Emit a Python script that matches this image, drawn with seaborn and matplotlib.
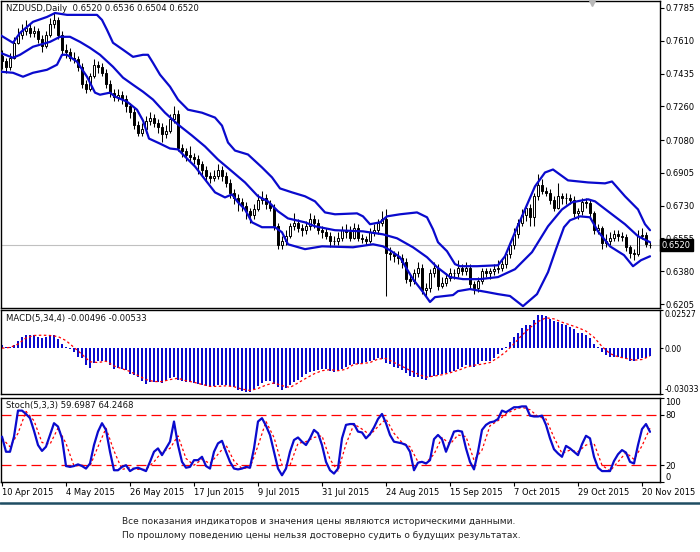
import numpy as np
import pandas as pd
import matplotlib
matplotlib.use('Agg')
import matplotlib.pyplot as plt
import seaborn as sns
from matplotlib.patches import Rectangle
from matplotlib.lines import Line2D

sns.set_style('white')
plt.rcParams['font.family'] = ['DejaVu Sans']

# ---------------- data ----------------
symbol_title = "NZDUSD,Daily  0.6520 0.6536 0.6504 0.6520"
macd_title = "MACD(5,34,4) -0.00496 -0.00533"
stoch_title = "Stoch(5,3,3) 59.6987 64.2468"
footer_lines = ["Все показания индикаторов и значения цены являются историческими данными.",
                "По прошлому поведению цены нельзя достоверно судить о будущих результатах."]

dates = pd.bdate_range('2015-04-10', '2015-11-24')
tick_labels = ["10 Apr 2015", "4 May 2015", "26 May 2015", "17 Jun 2015", "9 Jul 2015",
               "31 Jul 2015", "24 Aug 2015", "15 Sep 2015", "7 Oct 2015", "29 Oct 2015",
               "20 Nov 2015"]
price_ticks = [0.7785, 0.7610, 0.7435, 0.7260, 0.7080, 0.6905, 0.6730, 0.6555, 0.6380, 0.6205]
last_price = 0.6520
macd_ticks = [0.02527, 0.0, -0.03033]
macd_tick_labels = ["0.02527", "0.00", "-0.03033"]
stoch_levels = [80, 20]

opens = [0.7530,0.7500,0.7470,0.7520,0.7600,0.7640,0.7660,0.7680,0.7650,0.7660,
 0.7620,0.7580,0.7640,0.7700,0.7720,0.7640,0.7560,0.7550,0.7520,0.7510,
 0.7470,0.7380,0.7350,0.7420,0.7480,0.7470,0.7440,0.7380,0.7330,0.7310,
 0.7320,0.7300,0.7260,0.7230,0.7160,0.7120,0.7140,0.7180,0.7200,0.7170,
 0.7150,0.7110,0.7130,0.7190,0.7220,0.7040,0.7020,0.7000,0.6990,0.6980,
 0.6950,0.6920,0.6890,0.6880,0.6890,0.6920,0.6890,0.6850,0.6800,0.6770,
 0.6750,0.6730,0.6700,0.6680,0.6710,0.6760,0.6770,0.6740,0.6720,0.6620,
 0.6520,0.6540,0.6570,0.6620,0.6640,0.6610,0.6600,0.6620,0.6660,0.6640,
 0.6600,0.6590,0.6570,0.6540,0.6540,0.6560,0.6600,0.6590,0.6560,0.6610,
 0.6560,0.6550,0.6540,0.6590,0.6600,0.6640,0.6660,0.6480,0.6470,0.6460,
 0.6450,0.6430,0.6340,0.6330,0.6370,0.6400,0.6280,0.6290,0.6370,0.6400,
 0.6300,0.6320,0.6345,0.6370,0.6370,0.6400,0.6380,0.6400,0.6310,0.6290,
 0.6330,0.6380,0.6370,0.6380,0.6390,0.6400,0.6420,0.6470,0.6520,0.6580,
 0.6640,0.6680,0.6720,0.6670,0.6780,0.6840,0.6810,0.6800,0.6760,0.6720,
 0.6780,0.6770,0.6770,0.6760,0.6690,0.6700,0.6750,0.6745,0.6690,0.6600,
 0.6610,0.6530,0.6540,0.6560,0.6580,0.6570,0.6565,0.6510,0.6480,0.6470,
 0.6570,0.6575,0.6520]

highs = [0.7560,0.7520,0.7545,0.7630,0.7680,0.7700,0.7720,0.7700,0.7690,0.7680,
 0.7640,0.7660,0.7730,0.7760,0.7735,0.7660,0.7590,0.7570,0.7550,0.7530,
 0.7490,0.7400,0.7440,0.7510,0.7500,0.7490,0.7460,0.7400,0.7350,0.7350,
 0.7340,0.7320,0.7280,0.7250,0.7180,0.7170,0.7210,0.7230,0.7220,0.7190,
 0.7170,0.7160,0.7220,0.7260,0.7240,0.7060,0.7040,0.7050,0.7010,0.7000,
 0.6970,0.6940,0.6910,0.6920,0.6950,0.6940,0.6910,0.6870,0.6820,0.6790,
 0.6770,0.6750,0.6720,0.6740,0.6790,0.6810,0.6790,0.6760,0.6740,0.6640,
 0.6570,0.6600,0.6640,0.6690,0.6660,0.6630,0.6650,0.6690,0.6680,0.6660,
 0.6620,0.6610,0.6590,0.6570,0.6590,0.6620,0.6630,0.6620,0.6640,0.6630,
 0.6580,0.6570,0.6610,0.6630,0.6660,0.6700,0.6710,0.6510,0.6490,0.6490,
 0.6470,0.6450,0.6360,0.6390,0.6430,0.6420,0.6320,0.6390,0.6430,0.6420,
 0.6350,0.6370,0.6400,0.6390,0.6440,0.6420,0.6430,0.6420,0.6330,0.6350,
 0.6400,0.6400,0.6400,0.6420,0.6440,0.6440,0.6490,0.6540,0.6610,0.6660,
 0.6710,0.6740,0.6740,0.6800,0.6900,0.6870,0.6830,0.6820,0.6780,0.6850,
 0.6800,0.6800,0.6790,0.6780,0.6720,0.6770,0.6770,0.6760,0.6700,0.6630,
 0.6620,0.6580,0.6590,0.6600,0.6600,0.6590,0.6580,0.6520,0.6500,0.6600,
 0.6610,0.6590,0.6536]

lows = [0.7460,0.7440,0.7455,0.7510,0.7590,0.7620,0.7640,0.7630,0.7630,0.7600,
 0.7550,0.7570,0.7630,0.7680,0.7620,0.7540,0.7520,0.7500,0.7490,0.7450,
 0.7360,0.7330,0.7340,0.7410,0.7440,0.7420,0.7360,0.7310,0.7290,0.7290,
 0.7270,0.7230,0.7200,0.7140,0.7100,0.7100,0.7120,0.7160,0.7150,0.7120,
 0.7070,0.7090,0.7120,0.7170,0.7020,0.6990,0.6970,0.6970,0.6950,0.6900,
 0.6890,0.6860,0.6850,0.6860,0.6870,0.6860,0.6830,0.6770,0.6740,0.6700,
 0.6700,0.6660,0.6640,0.6660,0.6700,0.6740,0.6710,0.6700,0.6600,0.6500,
 0.6500,0.6520,0.6560,0.6600,0.6590,0.6570,0.6580,0.6600,0.6610,0.6580,
 0.6560,0.6550,0.6510,0.6520,0.6520,0.6540,0.6560,0.6540,0.6550,0.6540,
 0.6530,0.6520,0.6530,0.6570,0.6580,0.6620,0.6248,0.6440,0.6430,0.6420,
 0.6400,0.6320,0.6300,0.6310,0.6350,0.6260,0.6250,0.6270,0.6350,0.6280,
 0.6290,0.6300,0.6330,0.6340,0.6350,0.6360,0.6360,0.6290,0.6260,0.6270,
 0.6310,0.6350,0.6340,0.6360,0.6370,0.6380,0.6400,0.6450,0.6500,0.6560,
 0.6620,0.6650,0.6620,0.6620,0.6760,0.6790,0.6780,0.6740,0.6700,0.6710,
 0.6740,0.6740,0.6740,0.6670,0.6660,0.6680,0.6720,0.6670,0.6580,0.6580,
 0.6500,0.6510,0.6520,0.6540,0.6540,0.6540,0.6490,0.6450,0.6440,0.6460,
 0.6550,0.6510,0.6504]

closes = [0.7500,0.7470,0.7520,0.7600,0.7640,0.7660,0.7680,0.7650,0.7660,0.7620,
 0.7580,0.7640,0.7700,0.7720,0.7640,0.7560,0.7550,0.7520,0.7510,0.7470,
 0.7380,0.7350,0.7420,0.7480,0.7470,0.7440,0.7380,0.7330,0.7310,0.7320,
 0.7300,0.7260,0.7230,0.7160,0.7120,0.7140,0.7180,0.7200,0.7170,0.7150,
 0.7110,0.7130,0.7190,0.7220,0.7040,0.7020,0.7000,0.6990,0.6980,0.6950,
 0.6920,0.6890,0.6880,0.6890,0.6920,0.6890,0.6850,0.6800,0.6770,0.6750,
 0.6730,0.6700,0.6680,0.6710,0.6760,0.6770,0.6740,0.6720,0.6620,0.6520,
 0.6540,0.6570,0.6620,0.6640,0.6610,0.6600,0.6620,0.6660,0.6640,0.6600,
 0.6590,0.6570,0.6540,0.6540,0.6560,0.6600,0.6590,0.6560,0.6610,0.6560,
 0.6550,0.6540,0.6590,0.6600,0.6640,0.6660,0.6480,0.6470,0.6460,0.6450,
 0.6430,0.6340,0.6330,0.6370,0.6400,0.6280,0.6290,0.6370,0.6400,0.6300,
 0.6320,0.6345,0.6370,0.6370,0.6400,0.6380,0.6400,0.6310,0.6290,0.6330,
 0.6380,0.6370,0.6380,0.6390,0.6400,0.6420,0.6470,0.6520,0.6580,0.6640,
 0.6680,0.6720,0.6670,0.6780,0.6840,0.6810,0.6800,0.6760,0.6720,0.6780,
 0.6770,0.6770,0.6760,0.6690,0.6700,0.6750,0.6745,0.6690,0.6600,0.6610,
 0.6530,0.6540,0.6560,0.6580,0.6570,0.6565,0.6510,0.6480,0.6470,0.6570,
 0.6575,0.6525,0.6520]

# Bollinger bands (20,2): bar position where each value was read, and the value
bb_upper_pos = [-0.5,2.75,4.5,7.75,11.25,13.25,16.25,20.25,23.75,25.0,26.25,27.75,30.25,
                32.75,35.25,36.5,37.75,39.5,42.0,44.0,46.5,50.0,53.25,55.0,56.5,58.25,61.5,
                65.0,67.5,69.5,72.5,75.75,78.25,80.75,83.25,88.75,90.25,92.0,94.5,96.25,
                99.5,103.75,106.25,107.75,109.0,111.25,113.25,114.5,118.75,124.0,125.75,
                128.25,130.75,133.25,135.75,137.75,141.5,146.5,150.75,152.5,155.75,159.0,
                160.75,162.0]
bb_upper = [0.7641,0.7599,0.7652,0.7711,0.7737,0.7758,0.7748,0.7748,0.7748,0.7721,0.7668,
            0.7599,0.7562,0.7524,0.7535,0.7535,0.7492,0.7429,0.7365,0.7296,0.7242,0.7226,
            0.7200,0.7157,0.7067,0.7024,0.7003,0.6934,0.6881,0.6822,0.6801,0.6780,0.6753,
            0.6694,0.6684,0.6689,0.6673,0.6631,0.6641,0.6673,0.6684,0.6694,0.6668,0.6604,
            0.6535,0.6487,0.6418,0.6407,0.6407,0.6412,0.6460,0.6588,0.6710,0.6833,0.6907,
            0.6923,0.6865,0.6854,0.6849,0.6859,0.6780,0.6710,0.6631,0.6599]
bb_middle_pos = [-0.5,2.75,4.5,7.75,12.0,14.5,17.0,19.5,22.0,24.5,27.75,30.25,32.75,35.25,
                 37.75,40.75,44.0,47.5,50.75,54.0,57.5,60.75,64.0,66.5,69.0,71.5,75.75,
                 78.25,83.25,90.25,95.25,98.75,102.75,106.25,108.75,112.0,115.25,119.5,
                 124.0,128.25,132.5,136.5,140.0,142.5,146.5,148.25,151.5,155.75,159.0,162.0]
bb_middle = [0.7546,0.7519,0.7535,0.7578,0.7604,0.7631,0.7631,0.7604,0.7572,0.7535,0.7471,
             0.7413,0.7375,0.7338,0.7296,0.7226,0.7163,0.7104,0.7046,0.6976,0.6913,0.6854,
             0.6780,0.6753,0.6700,0.6662,0.6641,0.6620,0.6599,0.6593,0.6577,0.6556,0.6508,
             0.6455,0.6402,0.6349,0.6338,0.6338,0.6349,0.6391,0.6482,0.6620,0.6710,0.6748,
             0.6764,0.6753,0.6700,0.6631,0.6567,0.6535]
bb_lower_pos = [-0.5,2.75,5.25,7.75,11.25,13.75,15.0,16.25,18.75,21.25,23.25,24.5,27.0,
                28.25,31.25,33.75,35.25,36.75,39.5,42.0,44.0,45.75,48.25,50.75,53.25,55.75,
                57.5,59.0,60.75,62.5,65.0,68.25,70.0,71.5,75.75,80.0,87.75,92.75,95.25,
                97.0,99.5,101.25,102.75,105.25,107.0,108.25,112.75,114.0,117.0,121.25,124.0,
                127.0,130.25,133.75,136.5,138.5,140.5,142.0,144.5,147.0,149.0,152.0,155.5,
                157.75,159.75,162.0]
bb_lower = [0.7445,0.7439,0.7418,0.7439,0.7455,0.7482,0.7535,0.7535,0.7498,0.7418,0.7333,
            0.7322,0.7333,0.7312,0.7285,0.7242,0.7184,0.7088,0.7061,0.7035,0.7030,0.6992,
            0.6939,0.6870,0.6801,0.6774,0.6790,0.6748,0.6710,0.6641,0.6615,0.6615,0.6588,
            0.6524,0.6498,0.6513,0.6508,0.6524,0.6513,0.6492,0.6455,0.6391,0.6338,0.6269,
            0.6216,0.6242,0.6253,0.6274,0.6285,0.6269,0.6258,0.6248,0.6194,0.6258,0.6375,
            0.6498,0.6615,0.6652,0.6673,0.6668,0.6593,0.6513,0.6466,0.6407,0.6439,0.6460]

macd_hist = [0.0023,0.0005,0.0011,0.0023,0.0050,0.0075,0.0084,0.0090,0.0088,0.0077,
 0.0068,0.0077,0.0084,0.0084,0.0063,0.0027,0.0005,-0.0007,-0.0023,-0.0057,
 -0.0068,-0.0113,-0.0131,-0.0095,-0.0086,-0.0084,-0.0086,-0.0113,-0.0136,-0.0129,
 -0.0136,-0.0147,-0.0170,-0.0176,-0.0192,-0.0215,-0.0237,-0.0221,-0.0221,-0.0226,
 -0.0230,-0.0215,-0.0199,-0.0192,-0.0208,-0.0215,-0.0221,-0.0226,-0.0230,-0.0237,
 -0.0242,-0.0253,-0.0260,-0.0249,-0.0244,-0.0242,-0.0244,-0.0249,-0.0260,-0.0276,
 -0.0282,-0.0287,-0.0289,-0.0267,-0.0249,-0.0233,-0.0217,-0.0219,-0.0237,-0.0260,
 -0.0276,-0.0262,-0.0242,-0.0221,-0.0208,-0.0192,-0.0174,-0.0158,-0.0149,-0.0145,
 -0.0140,-0.0140,-0.0151,-0.0158,-0.0145,-0.0136,-0.0124,-0.0113,-0.0108,-0.0104,
 -0.0099,-0.0093,-0.0086,-0.0077,-0.0068,-0.0072,-0.0095,-0.0108,-0.0124,-0.0131,
 -0.0147,-0.0163,-0.0181,-0.0188,-0.0192,-0.0203,-0.0208,-0.0192,-0.0183,-0.0176,
 -0.0172,-0.0167,-0.0158,-0.0149,-0.0140,-0.0127,-0.0113,-0.0120,-0.0124,-0.0102,
 -0.0088,-0.0084,-0.0086,-0.0068,-0.0041,-0.0011,0.0011,0.0038,0.0072,0.0102,
 0.0136,0.0154,0.0154,0.0185,0.0217,0.0221,0.0210,0.0192,0.0181,0.0172,
 0.0163,0.0151,0.0142,0.0129,0.0102,0.0099,0.0090,0.0068,0.0027,0.0005,
 -0.0023,-0.0045,-0.0057,-0.0057,-0.0059,-0.0063,-0.0072,-0.0084,-0.0086,-0.0072,
 -0.0063,-0.0063,-0.0050]

sig_idx = list(range(0, 163, 2))
macd_signal = [0.0000,0.0005,0.0027,0.0068,0.0084,0.0086,0.0084,0.0077,0.0050,0.0005,
 -0.0041,-0.0090,-0.0095,-0.0086,-0.0118,-0.0136,-0.0154,-0.0181,-0.0208,-0.0221,
 -0.0221,-0.0208,-0.0199,-0.0215,-0.0226,-0.0240,-0.0253,-0.0253,-0.0249,-0.0255,
 -0.0271,-0.0280,-0.0267,-0.0244,-0.0230,-0.0248,-0.0260,-0.0230,-0.0199,-0.0170,
 -0.0149,-0.0142,-0.0149,-0.0140,
 -0.0106,-0.0102,-0.0095,-0.0072,-0.0068,-0.0095,-0.0120,-0.0147,-0.0172,-0.0192,
 -0.0185,-0.0176,-0.0163,-0.0147,-0.0127,-0.0113,-0.0106,-0.0095,-0.0063,-0.0023,
 0.0029,0.0086,0.0136,0.0176,0.0201,0.0194,0.0172,0.0154,0.0136,0.0113,
 0.0072,0.0011,-0.0036,-0.0057,-0.0068,-0.0079,-0.0075,-0.0053]

stoch_k = [54,36,36,54,85,85,81,76,61,44,
 37,42,56,70,66,52,19,18,19,21,
 19,16,22,44,60,70,62,36,14,14,
 18,20,13,16,17,15,13,24,36,40,
 32,40,48,72,44,24,17,18,26,26,
 30,19,16,36,46,49,36,24,16,15,
 16,18,17,40,72,76,67,56,36,16,
 8,16,36,50,53,48,44,52,62,58,
 44,24,14,10,16,52,68,69,69,60,
 59,52,57,65,75,81,70,56,48,47,
 46,44,36,14,23,24,22,26,51,56,
 51,36,48,60,61,60,40,24,15,36,
 62,68,71,72,75,85,83,86,89,89,
 90,90,79,78,78,79,68,52,39,34,
 30,43,40,36,32,45,55,52,30,17,
 13,13,13,25,33,38,35,24,22,44,
 63,69,59.7]

stoch_d = [52,42,58,84,73,47,45,64,46,19,
 20,19,42,64,37,15,17,15,15,24,
 36,40,55,28,20,27,22,33,44,25,
 16,17,43,72,53,20,20,46,48,53,
 55,27,13,45,69,63,56,66,75,58,
 47,42,24,23,33,53,45,56,54,26,
 38,67,73,81,86,89,86,78,75,53,
 34,38,36,44,46,20,13,24,35,27,
 43,64.2]

# ---------------- drawing ----------------
BLUE = '#0a0acd'
FS = 6.0
W, H = 700, 552
fig = plt.figure(figsize=(W / 100, H / 100), dpi=100)
fig.patch.set_facecolor('white')


def rect(x0, y0, x1, y1):
    return [x0 / W, 1 - y1 / H, (x1 - x0) / W, (y1 - y0) / H]


ax = fig.add_axes(rect(1, 1, 660, 308))
axm = fig.add_axes(rect(1, 310, 660, 394))
axs = fig.add_axes(rect(1, 398, 660, 482))

idx = np.arange(len(closes))
o = np.array(opens); c = np.array(closes); hi = np.array(highs); lo = np.array(lows)

# current price line
ax.axhline(last_price, color='#c0c0c0', lw=0.8, zorder=1)

# candles
ax.vlines(idx, lo, hi, color='black', lw=0.75, zorder=3)
for i in idx:
    bottom = min(o[i], c[i])
    height = max(abs(c[i] - o[i]), 0.00012)
    fc = 'white' if c[i] >= o[i] else 'black'
    ax.add_patch(Rectangle((i - 0.33, bottom), 0.66, height, facecolor=fc,
                           edgecolor='black', lw=0.7, zorder=4))

# bollinger bands
for pos, band in ((bb_upper_pos, bb_upper), (bb_middle_pos, bb_middle), (bb_lower_pos, bb_lower)):
    sns.lineplot(x=pos, y=band, ax=ax, color=BLUE, lw=1.6, zorder=5, legend=False,
                 solid_joinstyle='round')

# MACD
axm.bar(idx, macd_hist, width=0.62, color=BLUE, edgecolor=BLUE, linewidth=0, zorder=2)
sns.lineplot(x=sig_idx, y=macd_signal, ax=axm, color='red', lw=0.9,
             linestyle=(0, (2, 2)), zorder=3, legend=False)

# Stochastic
for lvl in stoch_levels:
    axs.axhline(lvl, color='red', lw=0.9, linestyle=(0, (8, 4)), zorder=1)
sns.lineplot(x=list(idx), y=stoch_k, ax=axs, color=BLUE, lw=1.6, zorder=3, legend=False)
sns.lineplot(x=sig_idx, y=stoch_d, ax=axs, color='red', lw=0.9,
             linestyle=(0, (2, 2)), zorder=2, legend=False)

# axes styling
for a in (ax, axm, axs):
    a.set_xlim(-0.25, 164.5)
    a.set_facecolor('white')
    a.set_xlabel('')
    a.set_ylabel('')
    for s in a.spines.values():
        s.set_visible(True)
        s.set_color('black')
        s.set_linewidth(1.0)
    a.yaxis.tick_right()
    a.tick_params(axis='y', which='both', direction='out', length=3, width=0.8,
                  pad=1.0, labelsize=FS, colors='black', left=False, right=True)

ax.set_ylim(0.6184, 0.7822)
ax.set_yticks(price_ticks)
ax.set_yticklabels([f'{v:.4f}' for v in price_ticks])
ax.set_xticks([])
axm.set_xticks([])

axm.set_ylim(-0.03033, 0.02527)
axm.set_yticks(macd_ticks)
axm.set_yticklabels(macd_tick_labels)
axm.tick_params(axis='y', labelsize=5.6, length=2)
mlabels = axm.get_yticklabels()
mlabels[0].set_va('top')
mlabels[2].set_va('bottom')

axs.set_ylim(0, 100)
axs.set_yticks([100, 80, 20, 0])
axs.set_yticklabels(['100', '80', '20', '0'])
slabels = axs.get_yticklabels()
slabels[0].set_va('top')
slabels[3].set_va('bottom')

tick_pos = [dates.get_loc(d) for d in pd.to_datetime(tick_labels, format='%d %b %Y')]
axs.set_xticks(tick_pos)
axs.set_xticklabels(tick_labels, ha='left')
axs.tick_params(axis='x', direction='out', length=3, width=0.8, pad=1.5,
                labelsize=FS, colors='black', bottom=True)

# current price tag
ax.text(1.003, last_price, f'{last_price:.4f}', transform=ax.get_yaxis_transform(),
        va='center', ha='left', fontsize=FS, color='white', zorder=10, clip_on=False,
        bbox=dict(boxstyle='square,pad=0.2', fc='black', ec='black'))

# shift marker
ax.plot([0.897], [0.992], marker='v', ms=5, color='#b8b8b8', transform=ax.transAxes,
        clip_on=False, zorder=6)

# headers
ax.text(0.007, 0.99, symbol_title, transform=ax.transAxes, va='top', ha='left',
        fontsize=6.1, color='#111111', zorder=11)
axm.text(0.007, 0.95, macd_title, transform=axm.transAxes, va='top', ha='left',
         fontsize=6.1, color='#111111', zorder=11)
axs.text(0.007, 0.96, stoch_title, transform=axs.transAxes, va='top', ha='left',
         fontsize=6.1, color='#111111', zorder=11)

# separator and footer
fig.add_artist(Line2D([0, 1], [1 - 503 / H, 1 - 503 / H], transform=fig.transFigure,
                      color='#1f4d63', lw=1.8))
fig.text(122 / W, 1 - 522 / H, footer_lines[0], ha='left', va='center', fontsize=6.5,
         color='#222222')
fig.text(122 / W, 1 - 536 / H, footer_lines[1], ha='left', va='center', fontsize=6.5,
         color='#222222')

fig.savefig('out.png', dpi=100, facecolor='white')
